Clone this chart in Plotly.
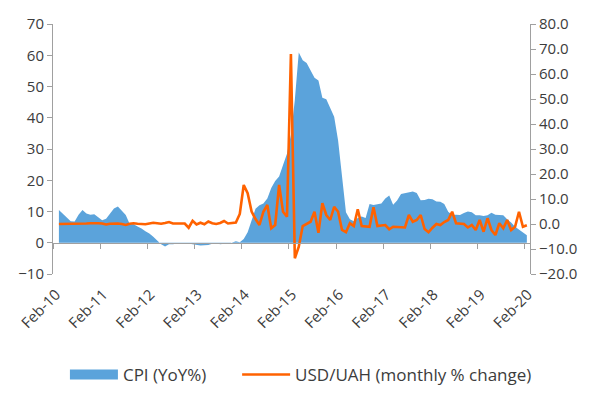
import plotly.graph_objects as go

# Monthly data, Mar-10 .. Feb-20 (120 points)
months = list(range(120))

cpi_yoy = [
    # 2010 Mar-Dec
    10.5, 9.4, 8.2, 6.9, 6.8, 9.0, 10.5, 9.4, 9.0, 9.1,
    # 2011
    8.2, 7.2, 7.7, 9.4, 11.0, 11.6, 10.3, 8.9, 6.0, 5.9, 5.2, 4.6,
    # 2012
    3.7, 3.0, 1.9, 0.6, -0.5, -1.2, -0.5, -0.5, -0.2, -0.1, -0.2, -0.2,
    # 2013
    -0.5, -0.8, -0.9, -0.8, -0.7, -0.3, -0.1, -0.5, -0.3, -0.4, 0.0, 0.5,
    # 2014
    0.2, 1.2, 3.4, 6.9, 10.9, 12.0, 12.6, 14.2, 17.5, 19.8, 21.2, 24.9,
    # 2015
    28.5, 34.5, 45.8, 60.9, 58.4, 57.5, 55.3, 52.8, 51.9, 46.4, 45.9, 43.3,
    # 2016
    40.3, 32.7, 20.9, 9.8, 7.5, 6.9, 7.9, 8.4, 7.9, 12.4, 12.1, 12.4,
    # 2017
    12.6, 14.2, 15.1, 12.2, 13.5, 15.6, 15.9, 16.2, 16.4, 15.9, 13.6, 13.7,
    # 2018
    14.1, 13.9, 13.2, 13.1, 12.4, 9.9, 8.9, 9.0, 8.9, 9.5, 10.0, 9.8,
    # 2019
    8.8, 8.8, 8.6, 8.8, 9.6, 9.0, 8.8, 8.8, 7.5, 6.5, 5.1, 4.1,
    # 2020 Jan-Feb
    3.2, 2.4,
]

usd_uah_mom = [
    # 2010 Mar-Dec
    0.0, 0.0, -0.1, 0.1, 0.0, 0.0, 0.1, 0.2, 0.3, 0.4,
    # 2011
    0.3, 0.2, -0.2, 0.1, 0.3, 0.2, 0.0, -0.4, 0.1, 0.3, 0.1, 0.0,
    # 2012
    -0.1, 0.2, 0.5, 0.3, 0.1, 0.4, 0.8, 0.2, 0.3, 0.3, 0.2, -1.5,
    # 2013
    1.3, -0.2, 0.5, -0.1, 1.0, 0.3, 0.0, 0.4, 1.2, 0.2, 0.4, 0.6,
    # 2014
    4.0, 15.6, 12.3, 5.0, 2.0, -0.4, 4.9, 7.6, -1.7, -0.4, 15.6, 4.9,
    # 2015
    2.9, 68.0, -13.7, -9.1, -0.8, 0.0, 0.9, 4.9, -3.5, 8.3, 3.6, 1.6,
    # 2016
    6.9, 4.9, -2.4, -3.3, 0.3, -0.8, 5.9, -0.8, -1.0, -1.1, 6.7, -0.8,
    # 2017
    -0.6, -0.4, -2.1, -1.1, -1.2, -1.4, -1.4, 3.6, 0.9, 1.6, 3.6, -2.0,
    # 2018
    -3.3, -1.5, 0.0, -0.4, 0.8, 1.6, 4.9, 0.3, 0.0, 0.0, -1.4, -0.4,
    # 2019
    -2.4, 1.6, -3.1, 2.3, -2.4, -4.4, 0.3, -1.7, 1.6, -2.4, -1.1, 4.9,
    # 2020 Jan-Feb
    -1.1, -0.5,
]

tick_pos = [12 * k - 1.5 for k in range(11)]
tick_text = ["Feb-10", "Feb-11", "Feb-12", "Feb-13", "Feb-14", "Feb-15",
             "Feb-16", "Feb-17", "Feb-18", "Feb-19", "Feb-20"]

BLUE = "#5BA3DB"
ORANGE = "#FF6200"
AXIS = "#A0A0A0"
TEXT = "#3C3C3C"
FONT = "Open Sans"

x_range = [-1.5, 119.8]

fig = go.Figure()

fig.add_trace(go.Scatter(
    x=months, y=cpi_yoy, name="CPI (YoY%)",
    mode="lines", fill="tozeroy", fillcolor=BLUE,
    line=dict(color=BLUE, width=0),
    yaxis="y", showlegend=False,
))

# legend stand-in: a thick line gives the flat blue swatch
fig.add_trace(go.Scatter(
    x=[None], y=[None], name="CPI (YoY%)",
    mode="lines", line=dict(color=BLUE, width=11), legend="legend",
))

fig.add_trace(go.Scatter(
    x=months, y=usd_uah_mom, name="USD/UAH (monthly % change)",
    mode="lines", line=dict(color=ORANGE, width=2.6),
    yaxis="y2", legend="legend2",
))

# invisible trace so the zero-line category axis gets drawn
fig.add_trace(go.Scatter(
    x=x_range, y=[0, 0], mode="lines", line=dict(width=0),
    xaxis="x2", yaxis="y", showlegend=False, hoverinfo="skip",
))

leg_style = dict(
    orientation="h", xanchor="left", y=-0.404, yanchor="middle",
    font=dict(size=17, color=TEXT), itemwidth=48,
)

# page body adds an 8px offset, margins account for it
fig.update_layout(
    width=605, height=404,
    margin=dict(l=45, r=83, t=16, b=138, autoexpand=False),
    plot_bgcolor="white", paper_bgcolor="white",
    font=dict(family=FONT, size=14, color=TEXT),
    showlegend=True,
    legend=dict(x=0.025, **leg_style),
    legend2=dict(x=0.386, **leg_style),
    xaxis=dict(
        range=x_range, tickmode="array", tickvals=tick_pos, ticktext=tick_text,
        tickangle=-45, showgrid=False, showline=False, zeroline=False,
        ticks="", tickfont=dict(size=15, color=TEXT), automargin=False,
        ticklabelstandoff=8, ticklabelshift=3,
    ),
    xaxis2=dict(
        range=x_range, overlaying="x", anchor="free", position=0.125,
        tickmode="array", tickvals=tick_pos, showticklabels=False,
        ticks="outside", ticklen=5, tickcolor=AXIS,
        showline=True, linecolor=AXIS, linewidth=1, showgrid=False,
        zeroline=False,
    ),
    yaxis=dict(
        range=[-10, 70], dtick=10, showgrid=False, zeroline=False,
        showline=True, linecolor=AXIS, linewidth=1,
        ticks="outside", ticklen=5, tickcolor=AXIS,
        tickfont=dict(size=15, color=TEXT), automargin=False,
    ),
    yaxis2=dict(
        range=[-20, 80], dtick=10, overlaying="y", side="right",
        showgrid=False, zeroline=False, tickformat=".1f",
        showline=True, linecolor=AXIS, linewidth=1,
        ticks="outside", ticklen=5, tickcolor=AXIS,
        tickfont=dict(size=15, color=TEXT), automargin=False,
    ),
)

fig.write_html("out.html")
